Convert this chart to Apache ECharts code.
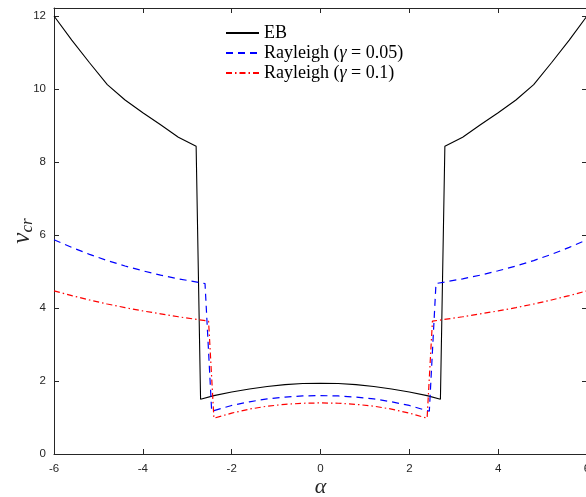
<!DOCTYPE html>
<html>
<head>
<meta charset="utf-8">
<script src="https://cdn.jsdelivr.net/npm/echarts@6/dist/echarts.min.js"></script>
<style>
  html, body { margin: 0; padding: 0; background: #fff; }
  #chart { width: 586px; height: 497px; }
</style>
</head>
<body>
<div id="chart"></div>
<script>
// Critical value v_cr against alpha for the Euler-Bernoulli beam and two Rayleigh beams
const ebAlpha = [-6, -5.6, -5.2, -4.8, -4.4, -4.0, -3.6, -3.2, -2.8, -2.7, -2.4, -2.0, -1.6, -1.2, -0.8, -0.4, 0,
                 0.4, 0.8, 1.2, 1.6, 2.0, 2.4, 2.7, 2.8, 3.2, 3.6, 4.0, 4.4, 4.8, 5.2, 5.6, 6];
const ebValues = [12.0, 11.34, 10.72, 10.12, 9.70, 9.35, 9.02, 8.68, 8.43, 1.50, 1.60, 1.70, 1.78, 1.85, 1.90, 1.93, 1.94,
                  1.93, 1.90, 1.85, 1.78, 1.70, 1.60, 1.50, 8.43, 8.68, 9.02, 9.35, 9.70, 10.12, 10.72, 11.34, 12.0];

const r05Alpha = [-6, -5.6, -5.2, -4.8, -4.4, -4.0, -3.6, -3.2, -2.6, -2.45, -2.0, -1.6, -1.2, -0.8, -0.4, 0,
                  0.4, 0.8, 1.2, 1.6, 2.0, 2.45, 2.6, 3.2, 3.6, 4.0, 4.4, 4.8, 5.2, 5.6, 6];
const r05Values = [5.87, 5.66, 5.47, 5.30, 5.15, 5.02, 4.90, 4.80, 4.67, 1.17, 1.33, 1.43, 1.51, 1.56, 1.59, 1.60,
                   1.59, 1.56, 1.51, 1.43, 1.33, 1.17, 4.67, 4.80, 4.90, 5.02, 5.15, 5.30, 5.47, 5.66, 5.87];

const r10Alpha = [-6, -5.6, -5.2, -4.8, -4.4, -4.0, -3.6, -3.2, -2.52, -2.40, -2.0, -1.6, -1.2, -0.8, -0.4, 0,
                  0.4, 0.8, 1.2, 1.6, 2.0, 2.40, 2.52, 3.2, 3.6, 4.0, 4.4, 4.8, 5.2, 5.6, 6];
const r10Values = [4.47, 4.34, 4.22, 4.11, 4.01, 3.92, 3.84, 3.76, 3.64, 0.98, 1.12, 1.23, 1.31, 1.36, 1.39, 1.40,
                   1.39, 1.36, 1.31, 1.23, 1.12, 0.98, 3.64, 3.76, 3.84, 3.92, 4.01, 4.11, 4.22, 4.34, 4.47];

const xTicks = [-6, -4, -2, 0, 2, 4, 6];
const yTicks = [0, 2, 4, 6, 8, 10, 12];
const seriesNames = ['EB', 'Rayleigh (γ = 0.05)', 'Rayleigh (γ = 0.1)'];

const pairs = (xs, ys) => xs.map((x, i) => [x, ys[i]]);

const axisColor = '#262626';
const tickFont = { fontFamily: 'Liberation Sans, Arial, sans-serif', fontSize: 11.5, color: axisColor };
const serif = 'Liberation Serif, DejaVu Serif, serif';

const chart = echarts.init(document.getElementById('chart'), null, { renderer: 'canvas' });

const baseX = {
  type: 'value', min: -6, max: 6, interval: 2,
  axisLine: { show: true, onZero: false, lineStyle: { color: axisColor, width: 1 } },
  axisTick: { show: true, inside: true, length: 5, lineStyle: { color: axisColor } },
  splitLine: { show: false }
};
const baseY = {
  type: 'value', min: 0, max: 12.22, interval: 2,
  axisLine: { show: true, onZero: false, lineStyle: { color: axisColor, width: 1 } },
  axisTick: { show: true, inside: true, length: 5, lineStyle: { color: axisColor } },
  splitLine: { show: false }
};

chart.setOption({
  animation: false,
  backgroundColor: '#fff',
  grid: { left: 54, top: 8, width: 533, bottom: 43, containLabel: false, outerBoundsMode: 'none' },
  legend: {
    orient: 'vertical', left: 225, top: 24, padding: 0,
    itemWidth: 33, itemHeight: 12, itemGap: 2,
    data: seriesNames,
    itemStyle: { opacity: 0 },
    formatter: name => {
      const m = name.match(/^(.*?)γ(.*)$/);
      return m ? '{t|' + m[1] + '}{g|γ}{t|' + m[2] + '}' : '{t|' + name + '}';
    },
    textStyle: {
      lineHeight: 18,
      rich: {
        t: { fontFamily: serif, fontSize: 18, lineHeight: 18, color: '#000' },
        g: { fontFamily: serif, fontSize: 18, lineHeight: 18, fontStyle: 'italic', color: '#000' }
      }
    }
  },
  xAxis: [
    Object.assign({}, baseX, {
      position: 'bottom',
      name: 'α', nameLocation: 'middle', nameGap: 22, nameMoveOverlap: false,
      nameTextStyle: { fontFamily: serif, fontStyle: 'italic', fontSize: 22, color: axisColor },
      axisLabel: Object.assign({ margin: 9,
        formatter: v => (xTicks.includes(v) ? String(v) : '') }, tickFont)
    }),
    Object.assign({}, baseX, { position: 'top', axisLabel: { show: false } })
  ],
  yAxis: [
    Object.assign({}, baseY, {
      position: 'left',
      name: '{v|v}{s|cr}', nameLocation: 'middle', nameGap: 18, nameRotate: 90, nameMoveOverlap: false,
      nameTextStyle: {
        rich: {
          v: { fontFamily: serif, fontStyle: 'italic', fontSize: 25, color: axisColor },
          s: { fontFamily: serif, fontStyle: 'italic', fontSize: 17, color: axisColor, padding: [10, 0, 0, 0] }
        }
      },
      axisLabel: Object.assign({ margin: 8,
        formatter: v => (yTicks.includes(v) ? String(v) : '') }, tickFont)
    }),
    Object.assign({}, baseY, { position: 'right', axisLabel: { show: false } })
  ],
  series: [
    {
      name: seriesNames[0], type: 'line', symbol: 'none', data: pairs(ebAlpha, ebValues),
      lineStyle: { color: '#000000', width: 1.1, type: 'solid' }, itemStyle: { color: '#000000' }
    },
    {
      name: seriesNames[1], type: 'line', symbol: 'none', data: pairs(r05Alpha, r05Values),
      lineStyle: { color: '#0000ff', width: 1.2, type: [7, 5] }, itemStyle: { color: '#0000ff' }
    },
    {
      name: seriesNames[2], type: 'line', symbol: 'none', data: pairs(r10Alpha, r10Values),
      lineStyle: { color: '#ff0000', width: 1.2, type: [6, 3, 1.5, 3] }, itemStyle: { color: '#ff0000' }
    }
  ]
});
</script>
</body>
</html>
